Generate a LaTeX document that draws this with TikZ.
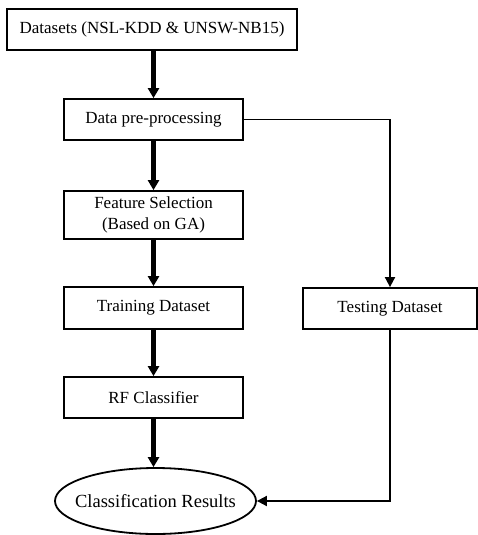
\documentclass[tikz,border=0pt]{standalone}
\usepackage{fontspec}
\setmainfont{Liberation Serif}
\usetikzlibrary{arrows.meta,shapes.geometric}
\begin{document}
\begin{tikzpicture}[x=1pt,y=-1pt,
  box/.style={draw,line width=1.8pt,inner sep=0pt,minimum height=41pt,
    font=\fontsize{17}{20.5}\selectfont,align=center},
  mainbox/.style={box,minimum width=179pt},
  thickarrow/.style={line width=4.5pt,-{Triangle[length=10pt,width=11pt]}},
  thinarrow/.style={line width=1.8pt,-{Triangle[length=10pt,width=10pt]}}]
\useasboundingbox (0,0) rectangle (478,535);
\node[box,minimum width=290pt] (ds) at (152,29.5) {Datasets (NSL-KDD \& UNSW-NB15)};
\node[mainbox] (pre) at (153.5,119.5) {Data pre-processing};
\node[mainbox,minimum height=48pt] (fs) at (153.5,215) {Feature Selection\\(Based on GA)};
\node[mainbox,minimum height=42pt] (train) at (153.5,308) {Training Dataset};
\node[box,minimum width=174pt] (test) at (390,308.5) {Testing Dataset};
\node[mainbox] (rf) at (153.5,397.5) {RF Classifier};
\node[ellipse,draw,line width=1.8pt,inner sep=0pt,minimum width=201pt,minimum height=66pt,
  label={[font=\fontsize{18.5}{22}\selectfont]center:Classification Results}] (res) at (155.5,501) {};
\draw[thickarrow] (ds.south -| pre.north) -- (pre.north);
\draw[thickarrow] (pre) -- (fs);
\draw[thickarrow] (fs) -- (train);
\draw[thickarrow] (train) -- (rf);
\draw[thickarrow] (rf.south) -- (rf.south |- res.north);
\draw[thinarrow] (pre.east) -| (test.north);
\draw[thinarrow] (test.south) |- (res.east);
\end{tikzpicture}
\end{document}
